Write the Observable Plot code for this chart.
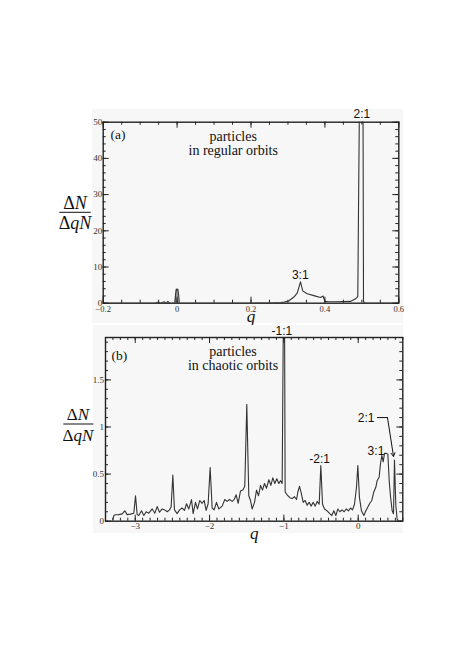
<!DOCTYPE html>
<html>
<head>
<meta charset="utf-8">
<script src="https://cdn.jsdelivr.net/npm/d3@7"></script>
<script src="https://cdn.jsdelivr.net/npm/@observablehq/plot@0.6"></script>
<style>
html, body { margin: 0; padding: 0; background: #fff; }
#root { position: relative; width: 463px; height: 655px; overflow: hidden; background: #fff; }
#root svg { position: absolute; overflow: visible; }
</style>
</head>
<body>
<div id="root"></div>
<script>
// ---------- Panel (a): particles in regular orbits ----------
const qA = [-0.2, -0.06, -0.05, -0.045, -0.035, -0.03, -0.025, -0.02, -0.006, -0.004,
            -0.002, 0, 0.002, 0.004, 0.006, 0.2, 0.26, 0.28, 0.29, 0.302,
            0.316, 0.325, 0.334, 0.340, 0.352, 0.370, 0.388, 0.395, 0.400, 0.410,
            0.433, 0.469, 0.483, 0.489, 0.4955, 0.5025, 0.5045, 0.51, 0.6];
const vA = [0, 0, 0.3, 0, 0.4, 0, 0.5, 0, 0, 2.5,
            3.9, 3.7, 3.9, 2.5, 0, 0, 0.1, 0.2, 0.3, 0.6,
            1.7, 2.8, 5.9, 3.4, 2.6, 2.1, 1.6, 2.0, 0.5, 0.4,
            0.4, 0.5, 1.2, 1.8, 80, 80, 0.4, 0, 0];
const xTicksA = [-0.2, 0, 0.2, 0.4, 0.6];
const xLabelsA = ["\u22120.2", "0", "0.2", "0.4", "0.6"];
const yTicksA = [0, 10, 20, 30, 40, 50];
const yLabelsA = ["0", "10", "20", "30", "40", "50"];

// ---------- Panel (b): particles in chaotic orbits ----------
const qB = [-3.301,-3.288,-3.265,-3.221,-3.176,-3.140,-3.109,-3.064,-3.019,-2.996,
            -2.974,-2.952,-2.916,-2.884,-2.853,-2.817,-2.772,-2.736,-2.705,-2.674,
            -2.638,-2.602,-2.570,-2.539,-2.517,-2.494,-2.472,-2.436,-2.404,-2.369,
            -2.337,-2.310,-2.279,-2.243,-2.221,-2.189,-2.162,-2.131,-2.100,-2.073,
            -2.046,-2.019,-1.992,-1.965,-1.938,-1.907,-1.875,-1.830,-1.795,-1.763,
            -1.732,-1.696,-1.669,-1.642,-1.615,-1.584,-1.552,-1.526,-1.499,-1.472,
            -1.449,-1.427,-1.395,-1.368,-1.341,-1.314,-1.288,-1.261,-1.234,-1.202,
            -1.175,-1.149,-1.122,-1.095,-1.068,-1.045,-1.023,-1.005,-0.992,-0.983,
            -0.956,-0.920,-0.888,-0.857,-0.830,-0.812,-0.790,-0.767,-0.740,-0.714,
            -0.687,-0.660,-0.633,-0.606,-0.579,-0.552,-0.525,-0.503,-0.480,-0.453,
            -0.418,-0.382,-0.355,-0.328,-0.301,-0.274,-0.247,-0.216,-0.189,-0.162,
            -0.131,-0.104,-0.077,-0.050,-0.023,-0.005,0.017,0.044,0.076,0.103,
            0.130,0.156,0.183,0.210,0.237,0.255,0.282,0.300,0.318,0.336,
            0.354,0.381,0.399,0.417,0.435,0.457,0.475,0.488,0.506,0.524,
            0.547,0.605];
const vB = [0.02,0.06,0.068,0.07,0.078,0.11,0.07,0.075,0.085,0.27,
            0.07,0.06,0.11,0.06,0.10,0.085,0.13,0.085,0.155,0.095,
            0.13,0.12,0.10,0.12,0.15,0.49,0.12,0.08,0.12,0.14,
            0.115,0.185,0.13,0.23,0.08,0.20,0.13,0.22,0.19,0.22,
            0.115,0.185,0.57,0.14,0.12,0.20,0.13,0.16,0.23,0.21,
            0.23,0.21,0.23,0.28,0.19,0.32,0.33,0.37,1.24,0.27,
            0.22,0.13,0.20,0.33,0.27,0.38,0.33,0.40,0.35,0.44,
            0.38,0.46,0.40,0.45,0.40,0.43,0.40,2.4,2.4,0.31,
            0.28,0.25,0.24,0.26,0.23,0.31,0.37,0.30,0.20,0.22,
            0.17,0.20,0.16,0.20,0.16,0.21,0.18,0.59,0.18,0.13,
            0.11,0.08,0.06,0.11,0.06,0.13,0.10,0.12,0.10,0.13,
            0.11,0.14,0.12,0.18,0.36,0.59,0.25,0.11,0.06,0.11,
            0.15,0.19,0.22,0.31,0.36,0.43,0.47,0.61,0.70,0.63,
            0.72,0.72,0.71,0.43,0.26,0.11,0.08,0.65,0.17,0.02,
            0.0,0.0];
const xTicksB = [-3, -2, -1, 0];
const xLabelsB = ["\u22123", "\u22122", "\u22121", "0"];
const yTicksB = [0, 0.5, 1, 1.5];
const yLabelsB = ["0", "0.5", "1", "1.5"];

// ---------- helpers ----------
const SERIF = "'Liberation Serif','Times New Roman',serif";
const SANS = "'Liberation Sans',Arial,Helvetica,sans-serif";
const INK = "#222";

const rows = (qs, vs) => qs.map((q, i) => ({q, v: vs[i]}));
const tickRows = (vals, labels) => vals.map((v, i) => ({v, label: labels[i]}));
const minor = (a, b, step) => d3.range(Math.round((b - a) / step) + 1).map(i => +(a + i * step).toFixed(4));

function frameTicks(xMaj, xMin, yMaj, yMin, fw, fh) {
  const M = 6, m = 3, st = {stroke: INK, strokeWidth: 1};
  return [
    Plot.tickX(xMaj, {x: d => d, insetTop: fh - M, ...st}),
    Plot.tickX(xMaj, {x: d => d, insetBottom: fh - M, ...st}),
    Plot.tickX(xMin, {x: d => d, insetTop: fh - m, ...st}),
    Plot.tickX(xMin, {x: d => d, insetBottom: fh - m, ...st}),
    Plot.tickY(yMaj, {y: d => d, insetRight: fw - M, ...st}),
    Plot.tickY(yMaj, {y: d => d, insetLeft: fw - M, ...st}),
    Plot.tickY(yMin, {y: d => d, insetRight: fw - m, ...st}),
    Plot.tickY(yMin, {y: d => d, insetLeft: fw - m, ...st})
  ];
}

function fraction(cx, yTop, yLine, yBot, x1, x2, fs) {
  return () => {
    const g = d3.create("svg:g")
      .attr("font-family", SERIF).attr("font-size", fs)
      .attr("fill", "#111").attr("text-anchor", "middle");
    const t1 = g.append("text").attr("x", cx).attr("y", yTop);
    t1.append("tspan").text("\u0394");
    t1.append("tspan").attr("font-style", "italic").text("N");
    g.append("line").attr("x1", x1).attr("x2", x2).attr("y1", yLine).attr("y2", yLine)
      .attr("stroke", "#111").attr("stroke-width", 1);
    const t2 = g.append("text").attr("x", cx).attr("y", yBot);
    t2.append("tspan").text("\u0394");
    t2.append("tspan").attr("font-style", "italic").text("qN");
    return g.node();
  };
}

const root = document.getElementById("root");
function place(svg, left, top) {
  svg.style.left = left + "px";
  svg.style.top = top + "px";
  root.appendChild(svg);
}

// ---------- Panel (a) ----------
{
  const W = 311, H = 214, ml = 10.7, mr = 4.7, mt = 12.7, mb = 20.3;
  const fw = W - ml - mr, fh = H - mt - mb;
  const data = rows(qA, vA);
  const svg = Plot.plot({
    width: W, height: H,
    marginLeft: ml, marginRight: mr, marginTop: mt, marginBottom: mb,
    style: {background: "#f7f7f7", overflow: "visible"},
    x: {domain: [-0.2, 0.6], axis: null},
    y: {domain: [0, 50], axis: null},
    marks: [
      Plot.areaY(data.filter(d => Math.abs(d.q) <= 0.006), {x: "q", y: "v", fill: "#999", curve: "linear"}),
      Plot.line(data, {x: "q", y: "v", stroke: "#333", strokeWidth: 1.1, clip: true}),
      ...frameTicks(xTicksA, minor(-0.2, 0.6, 0.05), yTicksA, minor(0, 50, 2), fw, fh),
      Plot.frame({stroke: INK, strokeWidth: 1.4}),
      Plot.text(tickRows(xTicksA, xLabelsA), {x: "v", text: "label", frameAnchor: "bottom", dy: 8.5,
        fontFamily: SERIF, fontSize: 8.5, fill: "#333"}),
      Plot.text(tickRows(yTicksA, yLabelsA), {y: "v", text: "label", frameAnchor: "left", dx: -1,
        textAnchor: "end", fontFamily: SERIF, fontSize: 9, fill: "#333"}),
      Plot.text(["q"], {frameAnchor: "bottom", dy: 19, lineAnchor: "bottom",
        fontFamily: SERIF, fontStyle: "italic", fontSize: 17, fill: "#111"}),
      Plot.text(["(a)"], {frameAnchor: "top-left", dx: 7.3, dy: 16.6, lineAnchor: "bottom", textAnchor: "start",
        fontFamily: SERIF, fontSize: 13.5, fill: "#111"}),
      Plot.text(["particles\nin regular orbits"], {frameAnchor: "top-left", dx: 130, dy: 33,
        lineAnchor: "bottom", lineHeight: 1, textAnchor: "middle", fontFamily: SERIF, fontSize: 14, fill: "#111"}),
      Plot.text([{q: 0.5, t: "2:1"}], {x: "q", text: "t", frameAnchor: "top", dy: -4, lineAnchor: "bottom",
        fontFamily: SANS, fontSize: 12, fill: "#111"}),
      Plot.text([{q: 1 / 3, v: 6.8, t: "3:1"}], {x: "q", y: "v", text: "t", lineAnchor: "bottom",
        fontFamily: SANS, fontSize: 12, fill: "#111"}),
      fraction(-17, 100, 103.3, 120, -32.7, -1.3, 18)
    ]
  });
  place(svg, 92, 109);
}

// ---------- Panel (b) ----------
{
  const W = 310, H = 208, ml = 12, mr = 0.7, mt = 12, mb = 12.3;
  const fw = W - ml - mr, fh = H - mt - mb;
  const data = rows(qB, vB);
  const svg = Plot.plot({
    width: W, height: H,
    marginLeft: ml, marginRight: mr, marginTop: mt, marginBottom: mb,
    style: {background: "#f7f7f7", overflow: "visible"},
    x: {domain: [-3.4, 0.6], axis: null},
    y: {domain: [0, 1.95], axis: null},
    marks: [
      Plot.line(data, {x: "q", y: "v", stroke: "#333", strokeWidth: 1.1, clip: true}),
      ...frameTicks(xTicksB, minor(-3.4, 0.6, 0.1), yTicksB, minor(0, 1.9, 0.1), fw, fh),
      Plot.frame({stroke: INK, strokeWidth: 1.4}),
      Plot.text(tickRows(xTicksB, xLabelsB), {x: "v", text: "label", frameAnchor: "bottom", dy: 7.5,
        fontFamily: SERIF, fontSize: 9, fill: "#333"}),
      Plot.text(tickRows(yTicksB, yLabelsB), {y: "v", text: "label", frameAnchor: "left", dx: -1.5,
        textAnchor: "end", fontFamily: SERIF, fontSize: 9, fill: "#333"}),
      Plot.text(["q"], {frameAnchor: "bottom", dy: 18, lineAnchor: "bottom",
        fontFamily: SERIF, fontStyle: "italic", fontSize: 17, fill: "#111"}),
      Plot.text(["(b)"], {frameAnchor: "top-left", dx: 6, dy: 22, lineAnchor: "bottom", textAnchor: "start",
        fontFamily: SERIF, fontSize: 13.5, fill: "#111"}),
      Plot.text(["particles\nin chaotic orbits"], {frameAnchor: "top-left", dx: 127.5, dy: 32,
        lineAnchor: "bottom", lineHeight: 1, textAnchor: "middle", fontFamily: SERIF, fontSize: 14, fill: "#111"}),
      Plot.text([{q: -1, t: "-1:1"}], {x: "q", text: "t", frameAnchor: "top", dy: -3, dx: -2, lineAnchor: "bottom",
        fontFamily: SANS, fontSize: 12, fill: "#111"}),
      Plot.text([{q: -0.518, v: 0.615, t: "-2:1"}], {x: "q", y: "v", text: "t", lineAnchor: "bottom",
        fontFamily: SANS, fontSize: 12, fill: "#111"}),
      Plot.text([{q: 0.239, v: 0.707, t: "3:1"}], {x: "q", y: "v", text: "t", lineAnchor: "bottom",
        fontFamily: SANS, fontSize: 12, fill: "#111"}),
      Plot.text([{q: 0.219, v: 1.05, t: "2:1"}], {x: "q", y: "v", text: "t", lineAnchor: "bottom", textAnchor: "end",
        fontFamily: SANS, fontSize: 12, fill: "#111"}),
      Plot.line([{q: 0.259, v: 1.10}, {q: 0.394, v: 1.10}], {x: "q", y: "v", stroke: "#111", strokeWidth: 1}),
      Plot.arrow([{x1: 0.394, y1: 1.10, x2: 0.475, y2: 0.688}], {x1: "x1", y1: "y1", x2: "x2", y2: "y2",
        stroke: "#111", strokeWidth: 1, headLength: 6}),
      fraction(-15, 94.5, 99, 115.7, -29.7, 0.3, 17)
    ]
  });
  place(svg, 93, 325);
}
</script>
</body>
</html>
